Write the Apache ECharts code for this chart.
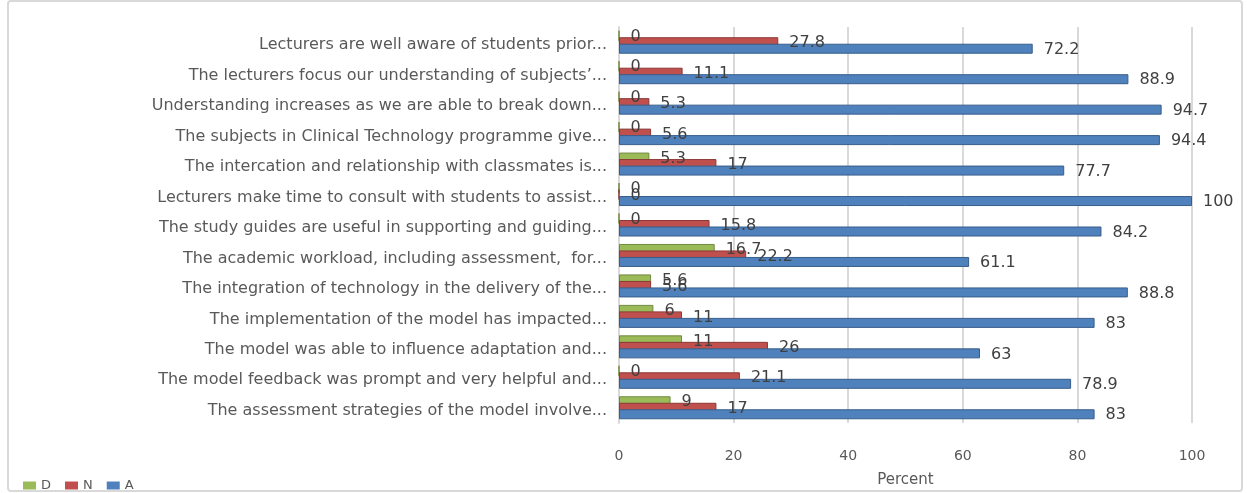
<!DOCTYPE html>
<html>
<head>
<meta charset="utf-8">
<script src="https://cdn.jsdelivr.net/npm/echarts@6/dist/echarts.min.js"></script>
<style>
  html, body { margin: 0; padding: 0; background: #fff; }
  #main { width: 1247px; height: 493px; }
</style>
</head>
<body>
<div id="main"></div>
<script>
// categories, top to bottom
var questions = [
  'Lecturers are well aware of students prior...',
  'The lecturers focus our understanding of subjects\u2019...',
  'Understanding increases as we are able to break down...',
  'The subjects in Clinical Technology programme give...',
  'The intercation and relationship with classmates is...',
  'Lecturers make time to consult with students to assist...',
  'The study guides are useful in supporting and guiding...',
  'The academic workload, including assessment,  for...',
  'The integration of technology in the delivery of the...',
  'The implementation of the model has impacted...',
  'The model was able to influence adaptation and...',
  'The model feedback was prompt and very helpful and...',
  'The assessment strategies of the model involve...'
];
var dValues = [0, 0, 0, 0, 5.3, 0, 0, 16.7, 5.6, 6, 11, 0, 9];
var nValues = [27.8, 11.1, 5.3, 5.6, 17, 0, 15.8, 22.2, 5.6, 11, 26, 21.1, 17];
var aValues = [72.2, 88.9, 94.7, 94.4, 77.7, 100, 84.2, 61.1, 88.8, 83, 63, 78.9, 83];
var xTicks = [0, 20, 40, 60, 80, 100];

var labelFont = 'DejaVu Sans';

function makeSeries(name, values, color, edge) {
  return {
    name: name,
    type: 'bar',
    data: values,
    barWidth: 10,
    barGap: '-35%',
    itemStyle: {
      color: color,
      borderColor: edge,
      borderWidth: 1
    },
    label: {
      show: true,
      position: 'right',
      distance: 11,
      offset: [0, 1],
      color: '#404040',
      fontFamily: labelFont,
      fontSize: 16
    }
  };
}

var myChart = echarts.init(document.getElementById('main'));
var option = {
  animation: false,
  backgroundColor: '#fff',
  //外框
  graphic: [{
    type: 'rect',
    shape: { x: 8, y: 1, width: 1234, height: 490, r: 3 },
    style: { fill: 'none', stroke: '#d9d9d9', lineWidth: 2 },
    z: -1
  }],
  legend: {
    data: ['D', 'N', 'A'],
    left: 18,
    top: 474,
    itemWidth: 13,
    itemHeight: 8,
    itemGap: 14,
    icon: 'rect',
    itemStyle: { borderWidth: 0 },
    textStyle: { color: '#595959', fontFamily: labelFont, fontSize: 13 }
  },
  grid: {
    left: 619,
    right: 55,
    top: 27,
    bottom: 63
  },
  xAxis: {
    type: 'value',
    min: xTicks[0],
    max: xTicks[xTicks.length - 1],
    interval: xTicks[1] - xTicks[0],
    name: 'Percent',
    nameLocation: 'middle',
    nameGap: 50,
    nameTextStyle: { color: '#595959', fontFamily: labelFont, fontSize: 15 },
    axisLine: { show: false },
    axisTick: { show: false },
    axisLabel: { color: '#595959', fontFamily: labelFont, fontSize: 14, margin: 26 },
    splitLine: { lineStyle: { color: '#d9d9d9', width: 2 } }
  },
  yAxis: {
    type: 'category',
    inverse: true,
    data: questions,
    axisTick: { show: false },
    axisLine: { lineStyle: { color: '#d9d9d9', width: 2 } },
    axisLabel: {
      color: '#595959',
      fontFamily: labelFont,
      fontSize: 16,
      margin: 12,
      verticalAlign: 'top',
      lineHeight: 6
    }
  },
  series: [
    makeSeries('D', dValues, '#9bbb59', '#71893f'),
    makeSeries('N', nValues, '#c0504d', '#8c3836'),
    makeSeries('A', aValues, '#4f81bd', '#385d8a')
  ]
};
myChart.setOption(option);
</script>
</body>
</html>
